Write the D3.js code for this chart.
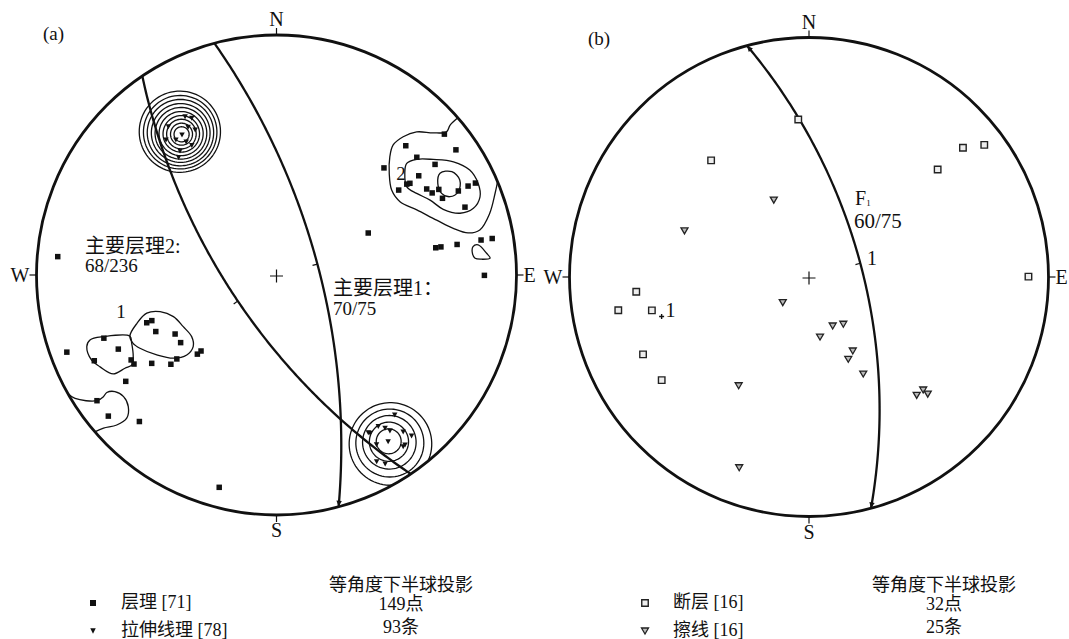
<!DOCTYPE html>
<html>
<head>
<meta charset="utf-8">
<script src="https://cdn.jsdelivr.net/npm/d3@7"></script>
<style>
body { margin: 0; background: #fff; }
svg text { font-family: "Liberation Serif", "Noto Sans CJK SC", serif; fill: #111; }
</style>
</head>
<body>
<svg id="chart" width="1069" height="639"></svg>
<script>
// all orientations are [trend, plunge] in degrees, lower hemisphere

// panel (a): poles to bedding
const beddingPoles = [
    [50.0, 5.2], [45.0, 15.4], [55.1, 5.3], [50.0, 15.3], [55.1, 12.3], [45.1, 25.4], [55.1, 18.3],
    [55.1, 23.0], [55.5, 22.0], [60.2, 18.4], [62.2, 17.5], [62.2, 15.2], [65.2, 15.4], [65.2, 10.3],
    [65.1, 7.3], [65.2, 5.2], [55.2, 26.4], [70.2, 10.3], [65.4, 44.4], [80.3, 22.1], [80.3, 20.4],
    [80.4, 15.3], [80.3, 8.3], [80.4, 5.3], [90.1, 8.2],
    [274.8, 5.1], [249.8, 30.1], [249.9, 32.1], [244.9, 31.9], [239.8, 37.9], [234.8, 37.9],
    [249.9, 15.1], [244.9, 17.9], [249.8, 4.1], [244.8, 10.0], [239.7, 19.9], [238.0, 20.0],
    [234.7, 25.0], [229.8, 30.1], [229.9, 33.0], [225.0, 40.0], [224.8, 41.9], [234.8, 14.9],
    [235.0, 5.2], [230.0, 5.1], [223.1, 10.2], [195.1, 5.0]
]

// panel (a): stretching lineations
const stretchLineations = [
    [330.0, 15.4], [331.6, 16.8], [323.9, 15.2], [329.1, 18.7], [330.7, 20.6], [326.0, 19.7],
    [323.3, 19.9], [325.8, 22.4], [326.8, 24.4], [322.1, 23.6], [320.2, 25.0], [320.7, 18.0],
    [139.8, 15.3], [149.4, 15.1], [146.1, 15.5], [144.7, 13.9], [144.0, 12.4], [146.2, 10.2],
    [141.1, 9.9], [140.0, 7.6], [143.6, 6.7], [149.5, 11.2], [151.8, 7.1], [150.1, 5.5],
    [149.8, 15.5], [142.9, 6.8]
]

// panel (b): poles to faults and striations
const faultPoles = [
    [356.1, 23.2], [320.0, 25.1], [50.1, 20.0], [50.0, 10.0], [53.0, 5.0], [89.9, 5.0],
    [265.1, 18.2], [260.1, 12.1], [258.0, 22.3], [245.0, 15.2], [235.0, 16.2]
]
const striations = [
    [335.4, 51.1], [290.3, 32.0], [225.7, 72.6], [169.6, 61.4], [212.9, 33.2], [200.1, 9.4],
    [154.2, 64.4], [144.0, 62.6], [149.4, 50.5], [154.5, 48.3], [150.8, 40.2], [137.7, 22.5],
    [134.7, 22.3], [134.6, 20.3]
]

// planes as [dip direction, dip]
const planesA = [[75, 70], [236, 68]]
const planesB = [[75, 65]]
const poleF1 = [255, 25]

// density contours of lineations: small circles (center, radii in degrees)
const ringCenterA = [326, 19.5]
const ringRadiiA = [2.4, 3.5, 4.7, 5.8, 7.0, 8.2, 9.3, 10.5, 11.6, 12.8]
const ringCenterB = [146, 10.3]
const ringRadiiB = [3.5, 5.5, 7.5, 9.5, 11.5]

// density contours of bedding poles
const contour2Outer = [[49.1, 0], [49.2, 2.6], [49.9, 4.4], [47.8, 7.2], [44.4, 10.3], [42.5, 14], [41.9, 17.9],
    [43.8, 21.4], [48, 25.4], [53.6, 28.4], [59.3, 28.2], [65.1, 24.4], [71.1, 19.6], [75.2, 15.4],
    [77.6, 11.5], [77.5, 8.1], [73.9, 4.5], [69.5, 1.6], [67.1, 0]]
const contour2Middle = [[49.4, 18.9], [50.5, 15.7], [53.6, 11.9], [57.4, 7.6], [61.5, 5], [65.6, 4.6], [69, 5.5],
    [71.3, 8.2], [71.4, 12.2], [68.5, 16.5], [64, 19.1], [59.8, 21.9], [55.9, 23.5], [51.6, 21.4]]
const contour2Inner = [[58.1, 12.5], [59.5, 9.4], [62.6, 8.6], [65.4, 10.4], [65.7, 13.2], [63.7, 15], [60.4, 14.6]]
const contourE = [[81.8, 10.8], [81.5, 9.3], [84.1, 7.3], [85.5, 6.5], [85.6, 8.8], [85.2, 10.6], [83.7, 11.2]]
const contour1Right = [[247.4, 23], [250.9, 26.8], [253.6, 31.2], [252.5, 36.1], [248, 40.3], [241, 42.1],
    [234, 42.8], [229.3, 40.8], [228.3, 36.8], [231.1, 32.2], [236.3, 28.1], [241.8, 24.3], [244.5, 23]]
const contour1Left = [[247.4, 23], [250.4, 15.1], [250.8, 11.1], [249.3, 9.6], [245.3, 9.4], [242.5, 10.7],
    [238.8, 13], [238.4, 16.9], [238.1, 19.3], [240.3, 21], [244.8, 22.6]]
const contourSW = [[240.5, 0], [238.5, 0.9], [235, 5.2], [234.9, 7.2], [235.3, 8.6], [234.2, 10.6], [231.5, 11.7],
    [228.4, 10.9], [226.3, 8.4], [226.8, 5.2], [228.5, 2.2], [229.2, 0]]

const legendA = ['层理 [71]', '拉伸线理 [78]']
const summaryA = ['等角度下半球投影', '149点', '93条']
const legendB = ['断层 [16]', '擦线 [16]']
const summaryB = ['等角度下半球投影', '32点', '25条']

const rad = Math.PI / 180
const svg = d3.select('#chart')

svg.append('defs').append('marker')
.attr('id', 'arrow')
.attr('viewBox', '0 0 10 10')
.attr('refX', 10).attr('refY', 5)
.attr('markerUnits', 'userSpaceOnUse')
.attr('markerWidth', 9).attr('markerHeight', 6)
.attr('orient', 'auto-start-reverse')
.append('path')
.attr('d', 'M0,0.5L10,5L0,9.5Z')
.attr('fill', '#111')

function toVec([t, p]) {
    return [Math.cos(p * rad) * Math.sin(t * rad), Math.cos(p * rad) * Math.cos(t * rad), Math.sin(p * rad)]
}

function toTP([x, y, z]) {
    let n = Math.hypot(x, y, z)
    let p = Math.asin(Math.max(-1, Math.min(1, z / n))) / rad
    let t = Math.atan2(x, y) / rad
    if (p < 0) p = 0
    return [(t + 360) % 360, p]
}

function makeNet(cx, cy, R) {
    let rScale = d3.scaleLinear().domain([0, 1]).range([0, R])
    let proj = ([t, p]) => {
        let r = rScale(Math.tan((90 - p) * rad / 2))
        return [cx + r * Math.sin(t * rad), cy - r * Math.cos(t * rad)]
    }
    return { cx, cy, R, proj }
}

function greatCircle([dd, dip]) {
    let s = [Math.sin((dd - 90) * rad), Math.cos((dd - 90) * rad), 0]
    let d = toVec([dd, dip])
    return d3.range(0, 180.5, 1).map(a => toTP(s.map((v, i) => v * Math.cos(a * rad) + d[i] * Math.sin(a * rad))))
}

function smallCircle(center, r) {
    let c = toVec(center)
    let u = [c[1], -c[0], 0]
    let n = Math.hypot(...u)
    u = u.map(v => v / n)
    let v = [c[1] * u[2] - c[2] * u[1], c[2] * u[0] - c[0] * u[2], c[0] * u[1] - c[1] * u[0]]
    return d3.range(0, 360, 4).map(th => toTP(c.map((ci, i) =>
        ci * Math.cos(r * rad) + Math.sin(r * rad) * (Math.cos(th * rad) * u[i] + Math.sin(th * rad) * v[i]))))
}

function drawNet(g, net) {
    g.append('circle')
    .attr('cx', net.cx).attr('cy', net.cy).attr('r', net.R)
    .attr('fill', 'none').attr('stroke', '#111').attr('stroke-width', 2.8)

    let dirs = [['N', 0], ['E', 90], ['S', 180], ['W', 270]]
    g.selectAll('.tick')
    .data(dirs)
    .join('line')
    .attr('x1', d => net.cx + net.R * Math.sin(d[1] * rad))
    .attr('y1', d => net.cy - net.R * Math.cos(d[1] * rad))
    .attr('x2', d => net.cx + (net.R + 7) * Math.sin(d[1] * rad))
    .attr('y2', d => net.cy - (net.R + 7) * Math.cos(d[1] * rad))
    .attr('stroke', '#111').attr('stroke-width', 1.2)

    g.selectAll('.dir')
    .data(dirs)
    .join('text')
    .attr('x', d => d[0] == 'E' ? net.cx + net.R + 7 : d[0] == 'W' ? net.cx - net.R - 7 : net.cx)
    .attr('y', d => d[0] == 'N' ? net.cy - net.R - 9 : d[0] == 'S' ? net.cy + net.R + 22 : net.cy + 7)
    .attr('text-anchor', d => d[0] == 'E' ? 'start' : d[0] == 'W' ? 'end' : 'middle')
    .attr('font-size', 20)
    .text(d => d[0])

    // centre cross
    g.append('path')
    .attr('d', `M${net.cx - 6.5},${net.cy + 1}H${net.cx + 6.5}M${net.cx},${net.cy - 5.5}V${net.cy + 7.5}`)
    .attr('stroke', '#111').attr('stroke-width', 1.2)
}

function drawPlane(g, net, plane, arrowStart, arrowEnd) {
    let pts = greatCircle(plane).map(net.proj)
    g.append('path')
    .attr('d', d3.line()(pts))
    .attr('fill', 'none').attr('stroke', '#111').attr('stroke-width', 2.3)
    .attr('marker-start', arrowStart ? 'url(#arrow)' : null)
    .attr('marker-end', arrowEnd ? 'url(#arrow)' : null)

    // small tick at the dip line
    let a = pts[88], b = pts[92], m = net.proj([plane[0], plane[1]])
    let tx = b[0] - a[0], ty = b[1] - a[1], n = Math.hypot(tx, ty)
    let nx = -ty / n, ny = tx / n
    if (nx > 0) { nx = -nx; ny = -ny }
    g.append('line')
    .attr('x1', m[0]).attr('y1', m[1])
    .attr('x2', m[0] + nx * 5).attr('y2', m[1] + ny * 5)
    .attr('stroke', '#111').attr('stroke-width', 1.2)
}

function drawContour(g, net, pts, closed) {
    let line = d3.line().curve(closed ? d3.curveCatmullRomClosed.alpha(0.5) : d3.curveCatmullRom.alpha(0.5))
    g.append('path')
    .attr('d', line(pts.map(net.proj)))
    .attr('fill', 'none').attr('stroke', '#111').attr('stroke-width', 1.3)
}

function squarePath(s) {
    return `M${-s / 2},${-s / 2}h${s}v${s}h${-s}Z`
}

function trianglePath(w, h) {
    return `M${-w / 2},${-h / 2}L${w / 2},${-h / 2}L0,${h / 2}Z`
}

// ---------- panel (a)
let netA = makeNet(276.5, 275, 240)
let gA = svg.append('g')

let contourG = gA.append('g')
ringRadiiA.forEach(r => {
    contourG.append('path')
    .attr('d', d3.line().curve(d3.curveLinearClosed)(smallCircle(ringCenterA, r).map(netA.proj)))
    .attr('fill', 'none').attr('stroke', '#111').attr('stroke-width', 1.3)
})
ringRadiiB.forEach(r => {
    contourG.append('path')
    .attr('d', d3.line().curve(d3.curveLinearClosed)(smallCircle(ringCenterB, r).map(netA.proj)))
    .attr('fill', 'none').attr('stroke', '#111').attr('stroke-width', 1.3)
})
drawContour(contourG, netA, contour2Outer, false)
drawContour(contourG, netA, contour2Middle, true)
drawContour(contourG, netA, contour2Inner, true)
drawContour(contourG, netA, contourE, true)
drawContour(contourG, netA, contour1Right, true)
drawContour(contourG, netA, contour1Left, true)
drawContour(contourG, netA, contourSW, false)

drawPlane(gA, netA, planesA[0], false, true)
drawPlane(gA, netA, planesA[1], false, false)

gA.selectAll('.pole')
.data(beddingPoles)
.join('path')
.attr('transform', d => `translate(${netA.proj(d)})`)
.attr('d', squarePath(5.5))
.attr('fill', '#111')

gA.selectAll('.lin')
.data(stretchLineations)
.join('path')
.attr('transform', d => `translate(${netA.proj(d)})`)
.attr('d', trianglePath(5.5, 5))
.attr('fill', '#111')

drawNet(gA, netA)

gA.append('text').attr('x', 43).attr('y', 40).attr('font-size', 19).text('(a)')
gA.append('text').attr('x', 85).attr('y', 253).attr('font-size', 20).text('主要层理2:')
gA.append('text').attr('x', 85).attr('y', 272).attr('font-size', 19).text('68/236')
gA.append('text').attr('x', 333).attr('y', 295).attr('font-size', 20).text('主要层理1：')
gA.append('text').attr('x', 333).attr('y', 315).attr('font-size', 19).text('70/75')
gA.append('text').attr('x', 121).attr('y', 318).attr('text-anchor', 'middle').attr('font-size', 19).text('1')
gA.append('text').attr('x', 401).attr('y', 180).attr('text-anchor', 'middle').attr('font-size', 19).text('2')

// ---------- panel (b)
let netB = makeNet(809, 277, 239.5)
let gB = svg.append('g')

drawPlane(gB, netB, planesB[0], true, true)

gB.selectAll('.pole')
.data(faultPoles)
.join('path')
.attr('transform', d => `translate(${netB.proj(d)})`)
.attr('d', squarePath(6.5))
.attr('fill', '#eee').attr('stroke', '#222').attr('stroke-width', 1.4)

gB.selectAll('.stri')
.data(striations)
.join('path')
.attr('transform', d => `translate(${netB.proj(d)})`)
.attr('d', trianglePath(7, 6))
.attr('fill', '#bbb').attr('stroke', '#222').attr('stroke-width', 1.3)

let pf = netB.proj(poleF1)
gB.append('path')
.attr('d', `M${pf[0] - 2.5},${pf[1]}H${pf[0] + 2.5}M${pf[0]},${pf[1] - 2.5}V${pf[1] + 2.5}`)
.attr('stroke', '#111').attr('stroke-width', 1.4)
gB.append('text').attr('x', pf[0] + 4).attr('y', pf[1] + 1).attr('font-size', 20).text('1')

drawNet(gB, netB)

gB.append('text').attr('x', 588).attr('y', 45).attr('font-size', 19).text('(b)')
let f1 = gB.append('text').attr('x', 855).attr('y', 205).attr('font-size', 20)
f1.append('tspan').text('F')
f1.append('tspan').attr('font-size', 9).attr('dy', 1).text('1')
gB.append('text').attr('x', 854).attr('y', 228).attr('font-size', 21).text('60/75')
gB.append('text').attr('x', 867).attr('y', 265).attr('font-size', 20).text('1')

// ---------- legends
function drawLegend(x, labels, hollow) {
    let g = svg.append('g')
    let ys = [603, 631]
    g.append('path')
    .attr('transform', `translate(${x},${ys[0]})`)
    .attr('d', squarePath(hollow ? 6.5 : 6))
    .attr('fill', hollow ? '#eee' : '#111')
    .attr('stroke', hollow ? '#222' : 'none').attr('stroke-width', 1.4)
    g.append('path')
    .attr('transform', `translate(${x},${ys[1]})`)
    .attr('d', hollow ? trianglePath(7, 6) : trianglePath(5.5, 5.5))
    .attr('fill', hollow ? '#bbb' : '#111')
    .attr('stroke', hollow ? '#222' : 'none').attr('stroke-width', 1.3)
    g.selectAll('.lab')
    .data(labels)
    .join('text')
    .attr('x', x + 28)
    .attr('y', (d, i) => ys[i] + 5)
    .attr('font-size', 18)
    .text(d => d)
}

function drawSummary(x, lines) {
    svg.append('g')
    .selectAll('text')
    .data(lines)
    .join('text')
    .attr('x', x)
    .attr('y', (d, i) => [591, 610, 633][i])
    .attr('text-anchor', 'middle')
    .attr('font-size', 18)
    .text(d => d)
}

drawLegend(93, legendA, false)
drawSummary(401, summaryA)
drawLegend(645, legendB, true)
drawSummary(944, summaryB)
</script>
</body>
</html>
